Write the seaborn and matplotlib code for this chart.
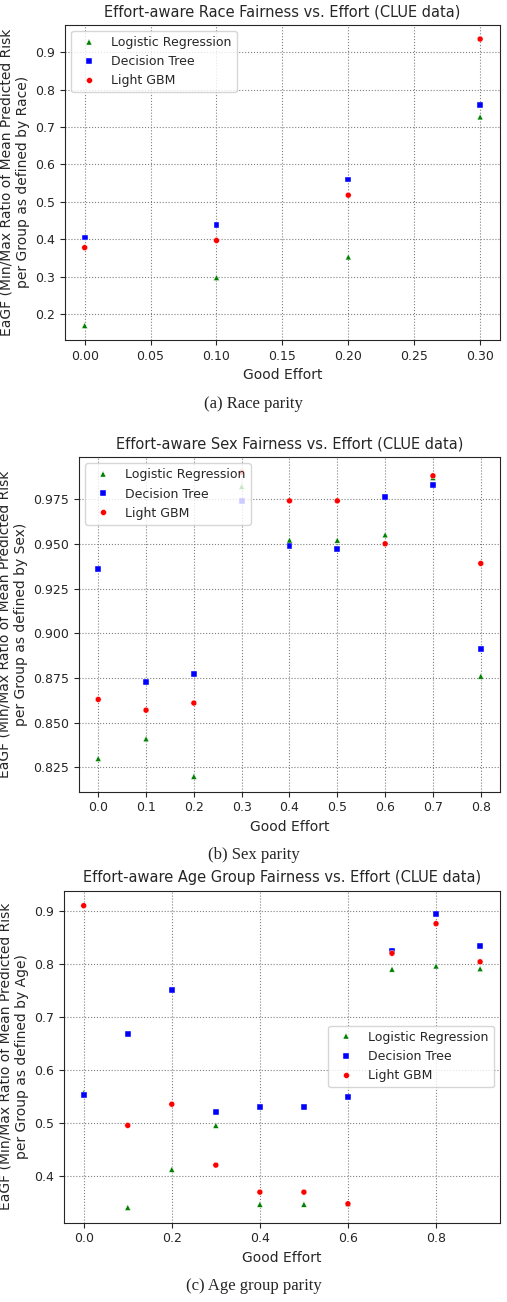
import matplotlib
matplotlib.use("Agg")
import matplotlib.pyplot as plt
import seaborn as sns
import pandas as pd

sns.set_style("ticks")
plt.rcParams['font.family'] = ['DejaVu Sans']

models = ["Logistic Regression", "Decision Tree", "Light GBM"]
race_x = [0.0, 0.1, 0.2, 0.3]
race_lr = [0.170, 0.298, 0.353, 0.727]
race_dt = [0.405, 0.438, 0.560, 0.760]
race_lgbm = [0.378, 0.397, 0.518, 0.935]

sex_x = [0.0, 0.1, 0.2, 0.3, 0.4, 0.5, 0.6, 0.7, 0.8]
sex_lr = [0.830, 0.841, 0.820, 0.982, 0.952, 0.952, 0.955, 0.987, 0.876]
sex_dt = [0.936, 0.873, 0.877, 0.974, 0.949, 0.947, 0.976, 0.983, 0.891]
sex_lgbm = [0.863, 0.857, 0.861, 0.990, 0.974, 0.974, 0.950, 0.988, 0.939]

age_x = [0.0, 0.1, 0.2, 0.3, 0.4, 0.5, 0.6, 0.7, 0.8, 0.9]
age_lr = [0.557, 0.340, 0.412, 0.495, 0.346, 0.346, 0.347, 0.790, 0.796, 0.791]
age_dt = [0.553, 0.668, 0.750, 0.520, 0.530, 0.530, 0.548, 0.825, 0.895, 0.833]
age_lgbm = [0.910, 0.495, 0.535, 0.420, 0.369, 0.369, 0.347, 0.820, 0.876, 0.804]

palette = {"Logistic Regression": "green", "Decision Tree": "blue", "Light GBM": "red"}
markers = {"Logistic Regression": "^", "Decision Tree": "s", "Light GBM": "o"}

fig = plt.figure(figsize=(5.07, 13.02), dpi=100)
panels = [
    (race_x, race_lr, race_dt, race_lgbm, "Race", "Effort-aware Race Fairness vs. Effort (CLUE data)",
     "(a) Race parity", [0.128, 0.739, 0.858, 0.242], "upper left", 0.313),
    (sex_x, sex_lr, sex_dt, sex_lgbm, "Sex", "Effort-aware Sex Fairness vs. Effort (CLUE data)",
     "(b) Sex parity", [0.156, 0.392, 0.830, 0.257], "upper left", 0.0),
    (age_x, age_lr, age_dt, age_lgbm, "Age", "Effort-aware Age Group Fairness vs. Effort (CLUE data)",
     "(c) Age group parity", [0.126, 0.061, 0.860, 0.255], "center right", 0.0),
]
for x, lr, dt, gb, grp, title, cap, pos, loc, _ in panels:
    ax = fig.add_axes(pos)
    df = pd.DataFrame({"x": x * 3, "y": lr + dt + gb,
                       "model": [models[0]] * len(x) + [models[1]] * len(x) + [models[2]] * len(x)})
    sns.scatterplot(data=df, x="x", y="y", hue="model", style="model", palette=palette,
                    markers=markers, s=18, edgecolor="white", linewidth=0.3, ax=ax)
    ax.grid(True, linestyle=":", color="gray", linewidth=0.8)
    ax.set_title(title, fontsize=10.5)
    ax.set_xlabel("Good Effort", fontsize=10)
    ax.set_ylabel(f"EaGF (Min/Max Ratio of Mean Predicted Risk\nper Group as defined by {grp})", fontsize=10)
    ax.tick_params(labelsize=9)
    for s in ax.spines.values():
        s.set_visible(True)
    ax.legend(title=None, loc=loc, fontsize=9)
    if grp == "Race":
        ax.xaxis.set_major_formatter(matplotlib.ticker.FormatStrFormatter("%.2f"))
    if grp == "Sex":
        ax.yaxis.set_major_formatter(matplotlib.ticker.FormatStrFormatter("%.3f"))
    fig.text(0.5, pos[1] - 0.052, cap, ha="center", fontsize=12, family="Liberation Serif")

fig.savefig("out.png", dpi=100)
